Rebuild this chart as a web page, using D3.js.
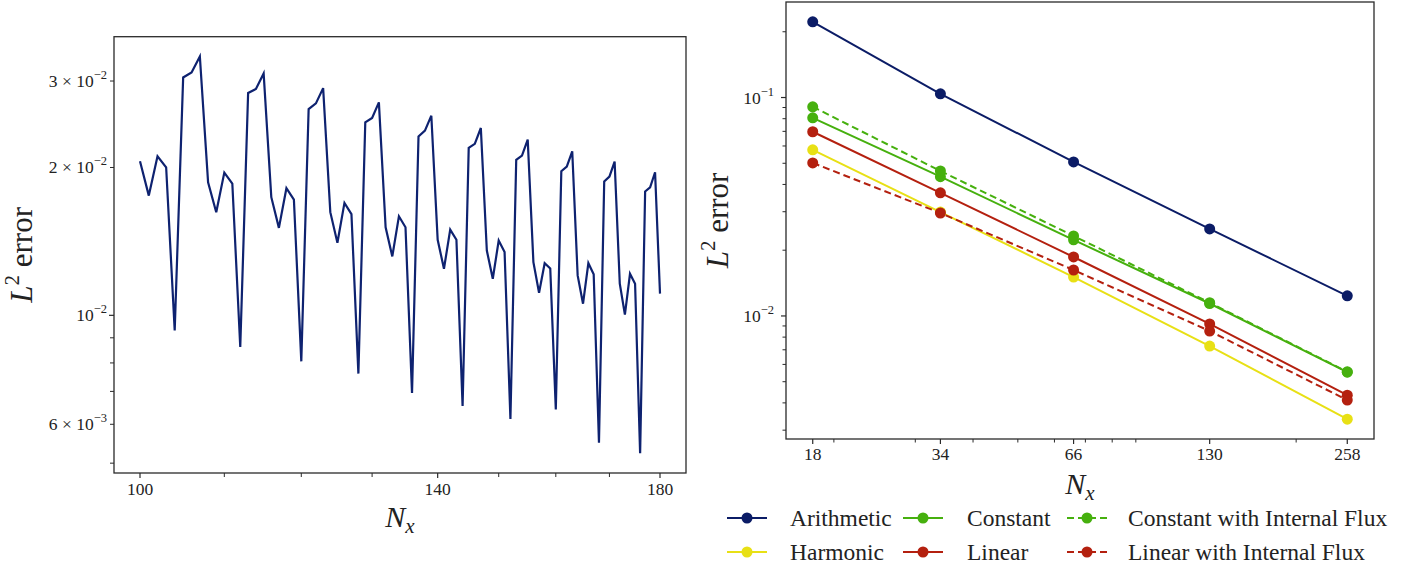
<!DOCTYPE html>
<html><head><meta charset="utf-8">
<script src="https://cdn.jsdelivr.net/npm/d3@7"></script>
<style>body{margin:0;background:#fff}text{font-family:"Liberation Serif","DejaVu Serif",serif;fill:#222}</style>
</head><body><svg id="c" width="1426" height="572"></svg>
<script>
// ---------- data: left panel (error vs Nx sweep) ----------
const nxSweep = [100,101,102,103,104,105,106,107,108,109,110,111,112,113,114,115,116,117,118,119,120,
  121,122,123,124,125,126,127,128,129,130,131,132,133,134,135,136,137,138,139,140,
  141,142,143,144,145,146,147,148,149,150,151,152,153,154,155,156,157,158,159,160,
  161,162,163,164,165,166,167,168,169,170,171,172,173,174,175,176,177,178,179,180];
const sweepError = [0.02059,0.01753,0.02108,0.02002,0.00932,0.0305,0.03123,0.03365,0.01866,0.01622,0.01953,
  0.01855,0.00862,0.02836,0.0289,0.03108,0.0174,0.01507,0.01815,0.01721,0.00806,
  0.02631,0.02701,0.02902,0.01622,0.01405,0.01694,0.01607,0.00761,0.02471,0.02522,
  0.02714,0.01511,0.01318,0.01591,0.01511,0.00695,0.02314,0.02377,0.0255,0.01425,
  0.01244,0.01495,0.01425,0.00654,0.02192,0.02234,0.02407,0.01355,0.01187,0.0142,
  0.01345,0.00615,0.02073,0.02115,0.02279,0.01283,0.01112,0.01277,0.01246,0.00643,
  0.01965,0.02008,0.02158,0.01206,0.01056,0.01277,0.01212,0.0055,0.01873,0.01917,
  0.02056,0.0116,0.01003,0.01215,0.0116,0.00524,0.01787,0.01823,0.01956,0.01107];
const leftXMajor = [100,140,180];
const leftXMinor = [110,120,130,150,160,170];
const leftYLabeled = [[3,-2],[2,-2],[1,-2],[6,-3]];
const leftYTicks = [0.005,0.006,0.007,0.008,0.009,0.01,0.02,0.03];

// ---------- data: right panel (convergence) ----------
const nxConv = [18,34,66,130,258];
const arithmetic = [0.222,0.104,0.0507,0.02504,0.01236];
const constant = [0.0807,0.0434,0.0223,0.0114,0.00553];
const constantIF = [0.0907,0.0461,0.02325,0.0115,0.00555];
const harmonic = [0.0576,0.0299,0.01507,0.00728,0.00337];
const linear = [0.0697,0.0366,0.01862,0.00919,0.00434];
const linearIF = [0.0502,0.0296,0.01623,0.00853,0.00412];
const seriesNames = ["Arithmetic","Constant","Constant with Internal Flux","Harmonic","Linear","Linear with Internal Flux"];
const rightYMajor = [[1,-1],[1,-2]];
const rightYMinor = [0.003,0.004,0.005,0.006,0.007,0.008,0.009,0.02,0.03,0.04,0.05,0.06,0.07,0.08,0.09,0.2];
const rightXMinor = [20,30,40,50,60,70,80,90,200];

// styles
const colors = {"Arithmetic":"#0b1c66","Constant":"#46b00e","Constant with Internal Flux":"#46b00e",
  "Harmonic":"#e8e015","Linear":"#b4200f","Linear with Internal Flux":"#b4200f"};
const dashed = {"Constant with Internal Flux":true,"Linear with Internal Flux":true};
const seriesData = {"Arithmetic":arithmetic,"Constant":constant,"Constant with Internal Flux":constantIF,
  "Harmonic":harmonic,"Linear":linear,"Linear with Internal Flux":linearIF};

const svg = d3.select("#c");
const SPINE = "#2a2a2a";

function logPad(vals, f){
  const lo = Math.log10(d3.min(vals)), hi = Math.log10(d3.max(vals));
  const p = (hi-lo)*f;
  return [Math.pow(10, lo-p), Math.pow(10, hi+p)];
}

function sciText(g, x, y, mant, exp, anchor){
  const t = g.append("text").attr("x", x).attr("y", y).attr("text-anchor", anchor).attr("font-size", 17.5);
  let s = (mant === 1 ? "" : mant + " × ") + "10";
  t.append("tspan").text(s);
  t.append("tspan").attr("font-size", 12.5).attr("dy", -8).text("−" + Math.abs(exp));
  return t;
}

function frame(g, x0, x1, y0, y1){
  g.append("rect").attr("x", x0).attr("y", y0).attr("width", x1-x0).attr("height", y1-y0)
    .attr("fill", "none").attr("stroke", SPINE).attr("stroke-width", 1.3);
}

function ylabel(g, x, y){
  const t = g.append("text").attr("transform", `translate(${x},${y}) rotate(-90)`)
    .attr("text-anchor", "middle").attr("font-size", 31);
  t.append("tspan").attr("font-style", "italic").text("L");
  t.append("tspan").attr("font-size", 21).attr("dy", -13).text("2");
  t.append("tspan").attr("dy", 13).text(" error");
}
function xlabel(g, x, y){
  const t = g.append("text").attr("x", x).attr("y", y).attr("text-anchor", "middle").attr("font-size", 30);
  t.append("tspan").attr("font-style", "italic").text("N");
  t.append("tspan").attr("font-style", "italic").attr("font-size", 21).attr("dy", 6).text("x");
}

// ---------- LEFT PANEL ----------
(function(){
  const L = 114, R = 686, T = 36.7, B = 473;
  const g = svg.append("g");
  const xd = logPad(nxSweep, 0.05), yd = logPad(sweepError, 0.05);
  const x = d3.scaleLog().domain(xd).range([L, R]);
  const y = d3.scaleLog().domain(yd).range([B, T]);

  const line = d3.line().x((d,i)=>x(nxSweep[i])).y(d=>y(d));
  g.append("path").datum(sweepError).attr("d", line).attr("fill","none")
    .attr("stroke","#0e2270").attr("stroke-width",2.2).attr("stroke-linejoin","miter");

  leftXMajor.forEach(v=>{
    g.append("line").attr("x1",x(v)).attr("x2",x(v)).attr("y1",B).attr("y2",B+5).attr("stroke",SPINE).attr("stroke-width",1.2);
    g.append("text").attr("x",x(v)).attr("y",B+22).attr("text-anchor","middle").attr("font-size",17.5).text(v);
  });
  leftXMinor.forEach(v=>{
    g.append("line").attr("x1",x(v)).attr("x2",x(v)).attr("y1",B).attr("y2",B+4).attr("stroke",SPINE).attr("stroke-width",1);
  });
  leftYTicks.forEach(v=>{
    const major = v === 0.01;
    g.append("line").attr("x1",L).attr("x2",L-(major?5:4)).attr("y1",y(v)).attr("y2",y(v)).attr("stroke",SPINE).attr("stroke-width",major?1.2:1);
  });
  leftYLabeled.forEach(([m,e])=>{
    sciText(g, L-7, y(m*Math.pow(10,e))+6, m, e, "end");
  });
  frame(g, L, R, T, B);
  ylabel(g, 32, (T+B)/2);
  xlabel(g, (L+R)/2, B+54);
})();

// ---------- RIGHT PANEL ----------
(function(){
  const L = 786, R = 1374, T = 2, B = 439;
  const g = svg.append("g");
  const allVals = [].concat(arithmetic, constant, constantIF, harmonic, linear, linearIF);
  const xd = logPad(nxConv, 0.05), yd = logPad(allVals, 0.05);
  const x = d3.scaleLog().domain(xd).range([L, R]);
  const y = d3.scaleLog().domain(yd).range([B, T]);

  seriesNames.forEach(name=>{
    const vals = seriesData[name];
    const line = d3.line().x((d,i)=>x(nxConv[i])).y(d=>y(d));
    g.append("path").datum(vals).attr("d", line).attr("fill","none")
      .attr("stroke", colors[name]).attr("stroke-width", 2)
      .attr("stroke-dasharray", dashed[name] ? "7,4" : null);
    g.selectAll(null).data(vals).enter().append("circle")
      .attr("cx",(d,i)=>x(nxConv[i])).attr("cy",d=>y(d)).attr("r",5.5).attr("fill",colors[name]);
  });

  nxConv.forEach(v=>{
    g.append("line").attr("x1",x(v)).attr("x2",x(v)).attr("y1",B).attr("y2",B+5).attr("stroke",SPINE).attr("stroke-width",1.2);
    g.append("text").attr("x",x(v)).attr("y",B+21).attr("text-anchor","middle").attr("font-size",17.5).text(v);
  });
  rightXMinor.forEach(v=>{
    g.append("line").attr("x1",x(v)).attr("x2",x(v)).attr("y1",B).attr("y2",B+3.5).attr("stroke",SPINE).attr("stroke-width",1);
  });
  rightYMinor.forEach(v=>{
    g.append("line").attr("x1",L).attr("x2",L-3.5).attr("y1",y(v)).attr("y2",y(v)).attr("stroke",SPINE).attr("stroke-width",1);
  });
  rightYMajor.forEach(([m,e])=>{
    const v = m*Math.pow(10,e);
    g.append("line").attr("x1",L).attr("x2",L-5).attr("y1",y(v)).attr("y2",y(v)).attr("stroke",SPINE).attr("stroke-width",1.2);
    sciText(g, L-12, y(v)+6, m, e, "end");
  });
  frame(g, L, R, T, B);
  ylabel(g, 728, (T+B)/2);
  xlabel(g, (L+R)/2, B+55);

  // legend
  const cols = [727, 903, 1067], textX = [790, 967, 1128], rows = [518, 552];
  seriesNames.forEach((name,i)=>{
    const c = i % 3, r = Math.floor(i/3);
    const lx = cols[c], ly = rows[r];
    g.append("line").attr("x1",lx).attr("x2",lx+40).attr("y1",ly).attr("y2",ly)
      .attr("stroke",colors[name]).attr("stroke-width",2).attr("stroke-dasharray",dashed[name]?"7,4":null);
    g.append("circle").attr("cx",lx+20).attr("cy",ly).attr("r",5.5).attr("fill",colors[name]);
    g.append("text").attr("x",textX[c]).attr("y",ly+7.5).attr("font-size",23.5).text(name);
  });
})();
</script></body></html>
